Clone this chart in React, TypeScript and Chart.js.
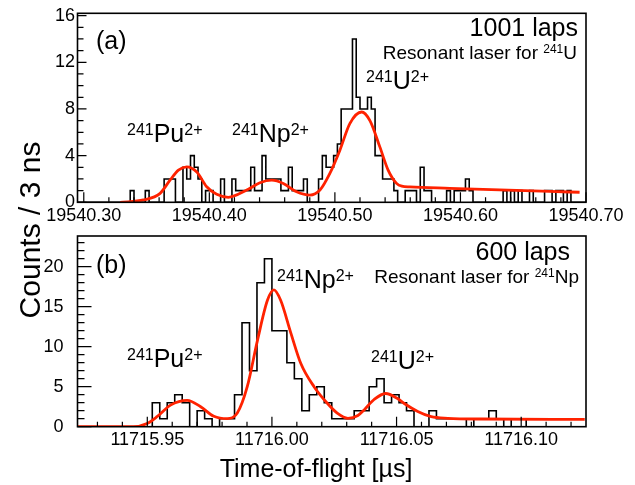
import React, { useEffect, useRef } from "react";
import { Chart, registerables } from "chart.js";

Chart.register(...registerables);

const FONT = "'Liberation Sans', Arial, Helvetica, sans-serif";
const RED = "#ff2200";
const W = 635;
const H = 485;
const FRAME_LEFT = 77.5;
const FRAME_RIGHT = 586;
const X_AXIS_H = 28;
const BIN_WIDTH = 0.003; // 3 ns bins

// ---------- Panel (a): 1001 laps ----------
const A_X_MIN = 19540.295;
const A_X_MAX = 19540.7;
const A_Y_MAX = 16.2;
const A_X_TICKS = [19540.3, 19540.4, 19540.5, 19540.6, 19540.7];
const A_Y_TICKS = [0, 4, 8, 12, 16];
const A_COUNTS = [
  0, 0, 0, 0, 0, 0, 0, 0, 0, 0,
  0, 0, 0, 0, 0, 1, 0, 0, 0, 1,
  0, 0, 0, 0, 2, 2, 2, 0, 0, 3,
  2, 4, 3, 2, 0, 1, 1, 0, 0, 2,
  0, 0, 2, 1, 1, 1, 1, 3, 1, 1,
  4, 2, 2, 2, 2, 1, 1, 3, 1, 1,
  1, 2, 0, 0, 0, 2, 4, 3, 3, 4,
  5, 8, 8, 8, 14, 9, 8, 8, 9, 8,
  4, 4, 2, 2, 2, 1, 0, 0, 1, 1,
  1, 0, 3, 1, 1, 0, 0, 0, 0, 1,
  0, 1, 1, 1, 2, 1, 0, 0, 0, 0,
  0, 0, 0, 0, 1, 0, 1, 0, 1, 0,
  0, 1, 0, 0, 0, 1, 1, 0, 1, 1,
  0, 1, 0, 0, 0,
];
const A_FIT_X = [
  19540.329, 19540.3475, 19540.3608, 19540.3687, 19540.3754, 19540.382,
  19540.39, 19540.3979, 19540.4059, 19540.4151, 19540.4298, 19540.4403,
  19540.4497, 19540.4589, 19540.4695, 19540.4801, 19540.4881, 19540.496,
  19540.504, 19540.5119, 19540.5213, 19540.5279, 19540.5358, 19540.5424,
  19540.5491, 19540.5533, 19540.5597, 19540.5915, 19540.6313, 19540.6711,
  19540.6949,
];
const A_FIT_Y = [
  0, 0.2, 0.77, 1.9, 2.76, 3.04,
  2.6, 1.33, 0.68, 0.43, 1.05, 1.68,
  1.9, 1.62, 0.9, 0.62, 1.05, 2.48,
  4.47, 6.75, 7.74, 7.0, 4.75, 2.76,
  1.62, 1.38, 1.32, 1.2, 1.06, 0.93,
  0.86,
];

// ---------- Panel (b): 600 laps ----------
const B_X_MIN = 11715.922;
const B_X_MAX = 11716.126;
const B_Y_MAX = 23.84;
const B_X_TICKS = [11715.95, 11716.0, 11716.05, 11716.1];
const B_Y_TICKS = [0, 5, 10, 15, 20];
const B_COUNTS = [
  0, 0, 0, 0, 0, 0, 0, 0, 0, 0,
  0, 3, 1, 3, 4, 3, 0, 2, 1, 0,
  1, 1, 4, 13, 7, 18, 21, 12, 12, 8,
  6, 2, 4, 5, 3, 1, 1, 1, 2, 2,
  5, 6, 3, 4, 3, 2, 0, 0, 2, 1,
  1, 1, 1, 0, 1, 1, 2, 1, 0, 1,
  1, 0, 0, 0, 0, 0, 0, 0,
];
const B_FIT_X = [
  11715.922, 11715.9444, 11715.9499, 11715.9539, 11715.9593, 11715.966,
  11715.9714, 11715.9767, 11715.9821, 11715.9861, 11715.9901, 11715.9942,
  11715.9982, 11716.0008, 11716.0035, 11716.0076, 11716.0116, 11716.0169,
  11716.0223, 11716.0262, 11716.0305, 11716.0345, 11716.037, 11716.041,
  11716.0456, 11716.0505, 11716.0531, 11716.0585, 11716.0639, 11716.0706,
  11716.084, 11716.1255,
];
const B_FIT_Y = [
  0, 0, 0.4, 1.25, 2.7, 3.3,
  2.5, 1.3, 1.0, 1.7, 5.0, 10.8,
  15.8, 17.1, 15.8, 11.7, 7.9, 5.0,
  2.9, 1.7, 1.05, 1.4, 2.1, 3.4,
  4.15, 3.5, 2.9, 1.9, 1.25, 1.05,
  0.96, 0.92,
];

type Part = [string, number, number]; // text, font size, raise

function drawRich(ctx: CanvasRenderingContext2D, parts: Part[], x: number, y: number, align: string) {
  let total = 0;
  const widths = parts.map(([t, s]) => {
    ctx.font = `${s}px ${FONT}`;
    const w = ctx.measureText(t).width;
    total += w;
    return w;
  });
  let cx = align === "right" ? x - total : align === "center" ? x - total / 2 : x;
  ctx.textAlign = "left";
  ctx.textBaseline = "alphabetic";
  parts.forEach(([t, s, r], i) => {
    ctx.font = `${s}px ${FONT}`;
    ctx.fillText(t, cx, y - r);
    cx += widths[i];
  });
}

const iso = (mass: string, sym: string, charge: string): Part[] => [
  [mass, 16, 7],
  [sym, 25, 0],
  [charge, 16, 7],
];

function drawTextsA(ctx: CanvasRenderingContext2D) {
  drawRich(ctx, [["(a)", 25, 0]], 96, 49, "left");
  drawRich(ctx, [["1001 laps", 25, 0]], 578, 36, "right");
  drawRich(ctx, [["Resonant laser for ", 19, 0], ["241", 12, 6], ["U", 19, 0]], 577, 59, "right");
  drawRich(ctx, iso("241", "Pu", "2+"), 127, 142, "left");
  drawRich(ctx, iso("241", "Np", "2+"), 232, 142, "left");
  drawRich(ctx, iso("241", "U", "2+"), 366, 89, "left");
  ctx.save();
  ctx.translate(40, 230);
  ctx.rotate(-Math.PI / 2);
  ctx.font = `30px ${FONT}`;
  ctx.textAlign = "center";
  ctx.textBaseline = "alphabetic";
  ctx.fillText("Counts / 3 ns", 0, 0);
  ctx.restore();
}

function drawTextsB(ctx: CanvasRenderingContext2D) {
  drawRich(ctx, [["(b)", 25, 0]], 96, 273, "left");
  drawRich(ctx, [["600 laps", 25, 0]], 570, 260, "right");
  drawRich(ctx, [["Resonant laser for ", 19, 0], ["241", 12, 6], ["Np", 19, 0]], 579, 283, "right");
  drawRich(ctx, iso("241", "Np", "2+"), 277, 288, "left");
  drawRich(ctx, iso("241", "Pu", "2+"), 127, 367, "left");
  drawRich(ctx, iso("241", "U", "2+"), 371, 369, "left");
  drawRich(ctx, [["Time-of-flight [\u00b5s]", 25, 0]], 316, 477, "center");
}

interface PanelCfg {
  xMin: number; xMax: number; yMax: number;
  xTicks: number[]; yTicks: number[];
  xMinorStart: number; xMinorStep: number; yMinorStep: number;
  counts: number[]; fitX: number[]; fitY: number[];
  top: number; bottom: number; yPad: number;
  yMajorLen: number; yMinorLen: number;
  texts: (ctx: CanvasRenderingContext2D) => void;
}

function framePlugin(cfg: PanelCfg) {
  return {
    id: "rootFrame",
    afterDraw(chart: any) {
      const { ctx, chartArea: a, scales } = chart;
      const xs = scales.x;
      const ys = scales.y;
      ctx.save();
      ctx.strokeStyle = "#000";
      ctx.lineWidth = 1.6;
      ctx.strokeRect(a.left, a.top, a.right - a.left, a.bottom - a.top);
      ctx.lineWidth = 1.2;
      ctx.beginPath();
      for (let i = 0; ; i++) {
        const v = cfg.xMinorStart + i * cfg.xMinorStep;
        if (v > cfg.xMax + 1e-9) break;
        const major = cfg.xTicks.some((t) => Math.abs(t - v) < cfg.xMinorStep / 10);
        const px = xs.getPixelForValue(v);
        ctx.moveTo(px, a.bottom);
        ctx.lineTo(px, a.bottom - (major ? 10 : 5));
      }
      for (let i = 0; ; i++) {
        const v = i * cfg.yMinorStep;
        if (v > cfg.yMax + 1e-9) break;
        const major = cfg.yTicks.some((t) => Math.abs(t - v) < 1e-6);
        const py = ys.getPixelForValue(v);
        ctx.moveTo(a.left, py);
        ctx.lineTo(a.left + (major ? cfg.yMajorLen : cfg.yMinorLen), py);
      }
      ctx.stroke();
      ctx.fillStyle = "#000";
      cfg.texts(ctx);
      ctx.restore();
    },
  };
}

function makeChart(canvas: HTMLCanvasElement, cfg: PanelCfg) {
  const hist = cfg.counts.map((c, k) => ({ x: cfg.xMin + k * BIN_WIDTH, y: c }));
  hist.push({ x: cfg.xMin + cfg.counts.length * BIN_WIDTH, y: cfg.counts[cfg.counts.length - 1] });
  const fit = cfg.fitX.map((x, i) => ({ x, y: cfg.fitY[i] }));
  return new Chart(canvas, {
    type: "line",
    data: {
      datasets: [
        { data: fit, borderColor: RED, borderWidth: 2.8, pointRadius: 0, cubicInterpolationMode: "monotone", fill: false },
        { data: hist, borderColor: "#000", borderWidth: 1.6, pointRadius: 0, stepped: "after", fill: false },
      ],
    } as any,
    options: {
      responsive: false,
      animation: false,
      events: [],
      layout: { padding: { left: 0, right: W - FRAME_RIGHT, top: cfg.top, bottom: H - cfg.bottom - X_AXIS_H } },
      plugins: { legend: { display: false }, tooltip: { enabled: false } },
      scales: {
        x: {
          type: "linear",
          min: cfg.xMin,
          max: cfg.xMax,
          grid: { display: false, drawTicks: false },
          border: { display: false },
          afterBuildTicks: (s: any) => { s.ticks = cfg.xTicks.map((v) => ({ value: v })); },
          afterFit: (s: any) => { s.height = X_AXIS_H; },
          ticks: {
            autoSkip: false, maxRotation: 0, minRotation: 0, padding: 3, color: "#000",
            font: { family: FONT, size: 18 },
            callback: (v: any) => Number(v).toFixed(2),
          },
        },
        y: {
          type: "linear",
          min: 0,
          max: cfg.yMax,
          grid: { display: false, drawTicks: false },
          border: { display: false },
          afterBuildTicks: (s: any) => { s.ticks = cfg.yTicks.map((v) => ({ value: v })); },
          afterFit: (s: any) => { s.width = FRAME_LEFT; },
          ticks: {
            padding: cfg.yPad, color: "#000",
            font: { family: FONT, size: 18 },
            callback: (v: any) => String(Math.round(Number(v))),
          },
        },
      },
    } as any,
    plugins: [framePlugin(cfg)],
  });
}

export default function App() {
  const refA = useRef<HTMLCanvasElement>(null);
  const refB = useRef<HTMLCanvasElement>(null);

  useEffect(() => {
    const cA: PanelCfg = {
      xMin: A_X_MIN, xMax: A_X_MAX, yMax: A_Y_MAX,
      xTicks: A_X_TICKS, yTicks: A_Y_TICKS,
      xMinorStart: 19540.3, xMinorStep: 0.02, yMinorStep: 1,
      counts: A_COUNTS, fitX: A_FIT_X, fitY: A_FIT_Y,
      top: 12.7, bottom: 202.3, yPad: 2.5,
      yMajorLen: 9, yMinorLen: 6,
      texts: drawTextsA,
    };
    const cB: PanelCfg = {
      xMin: B_X_MIN, xMax: B_X_MAX, yMax: B_Y_MAX,
      xTicks: B_X_TICKS, yTicks: B_Y_TICKS,
      xMinorStart: 11715.93, xMinorStep: 0.01, yMinorStep: 1,
      counts: B_COUNTS, fitX: B_FIT_X, fitY: B_FIT_Y,
      top: 236, bottom: 426.7, yPad: 14,
      yMajorLen: 14, yMinorLen: 7,
      texts: drawTextsB,
    };
    const chA = makeChart(refA.current!, cA);
    const chB = makeChart(refB.current!, cB);
    return () => {
      chA.destroy();
      chB.destroy();
    };
  }, []);

  const cs: React.CSSProperties = { position: "absolute", left: 0, top: 0, width: W, height: H };
  return (
    <div style={{ position: "fixed", left: 0, top: 0, width: W, height: H, background: "#fff" }}>
      <canvas ref={refA} width={W} height={H} style={cs} />
      <canvas ref={refB} width={W} height={H} style={cs} />
    </div>
  );
}
